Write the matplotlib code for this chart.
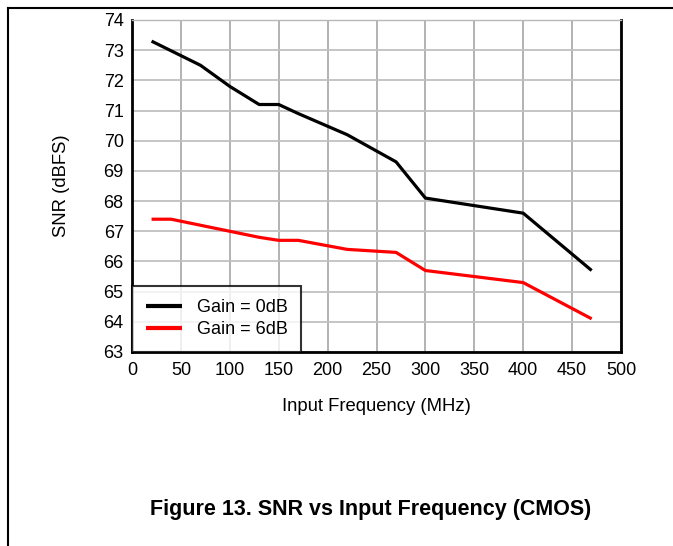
import matplotlib
matplotlib.use("Agg")
import matplotlib.pyplot as plt
from matplotlib.lines import Line2D

plt.rcParams['font.family'] = ['Liberation Sans', 'DejaVu Sans']

freq_0db = [20, 70, 100, 130, 150, 170, 220, 270, 300, 400, 470]
snr_0db = [73.3, 72.5, 71.8, 71.2, 71.2, 70.9, 70.2, 69.3, 68.1, 67.6, 65.7]
freq_6db = [20, 40, 100, 130, 150, 170, 220, 270, 300, 400, 470]
snr_6db = [67.4, 67.4, 67.0, 66.8, 66.7, 66.7, 66.4, 66.3, 65.7, 65.3, 64.1]
labels = ["Gain = 0dB", "Gain = 6dB"]
xticks = list(range(0, 501, 50))
yticks = list(range(63, 75))

fig = plt.figure(figsize=(6.73, 5.46), dpi=100)
ax = fig.add_axes([132/673, 1-352/546, (621-132)/673, (352-20)/546])

ax.plot(freq_0db, snr_0db, color='black', lw=2.3, label=labels[0], solid_capstyle='butt')
ax.plot(freq_6db, snr_6db, color='#ff0000', lw=2.3, label=labels[1], solid_capstyle='butt')

ax.set_xlim(0, 500)
ax.set_ylim(63, 74)
ax.set_xticks(xticks)
ax.set_yticks(yticks)
ax.grid(True, axis='x', color='#a6a6a6', lw=1.2)
ax.grid(True, axis='y', color='#c0c0c0', lw=1.3)
ax.set_axisbelow(True)
ax.tick_params(axis='both', length=0, labelsize=13)
ax.tick_params(axis='x', pad=7)
ax.tick_params(axis='y', pad=6)
for s in ['left', 'right', 'bottom']:
    ax.spines[s].set_color('black')
    ax.spines[s].set_linewidth(2)
ax.spines['top'].set_color('#b8b8b8')
ax.spines['top'].set_linewidth(1)

ax.set_xlabel("Input Frequency (MHz)", fontsize=13.3, labelpad=14)
ax.set_ylabel("SNR (dBFS)", fontsize=13.3, labelpad=24)

leg = ax.legend(loc='lower left', fontsize=13, frameon=True, fancybox=False,
                borderaxespad=0.0, handlelength=2.0, borderpad=0.75,
                labelspacing=0.3, handletextpad=0.85)
leg.get_frame().set_edgecolor('black')
leg.get_frame().set_linewidth(1.5)
for h in leg.get_lines():
    h.set_linewidth(3)

fig.text(371/673, 1-510/546, "Figure 13. SNR vs Input Frequency (CMOS)",
         ha='center', va='center', fontsize=15.5, fontweight='bold')

# page border lines (top and left)
fig.add_artist(Line2D([8/673, 1.0], [1-8/546, 1-8/546], color='black', lw=1.5,
                      transform=fig.transFigure))
fig.add_artist(Line2D([8/673, 8/673], [0, 1-8/546], color='black', lw=1.5,
                      transform=fig.transFigure))

fig.savefig("out.png", dpi=100)
